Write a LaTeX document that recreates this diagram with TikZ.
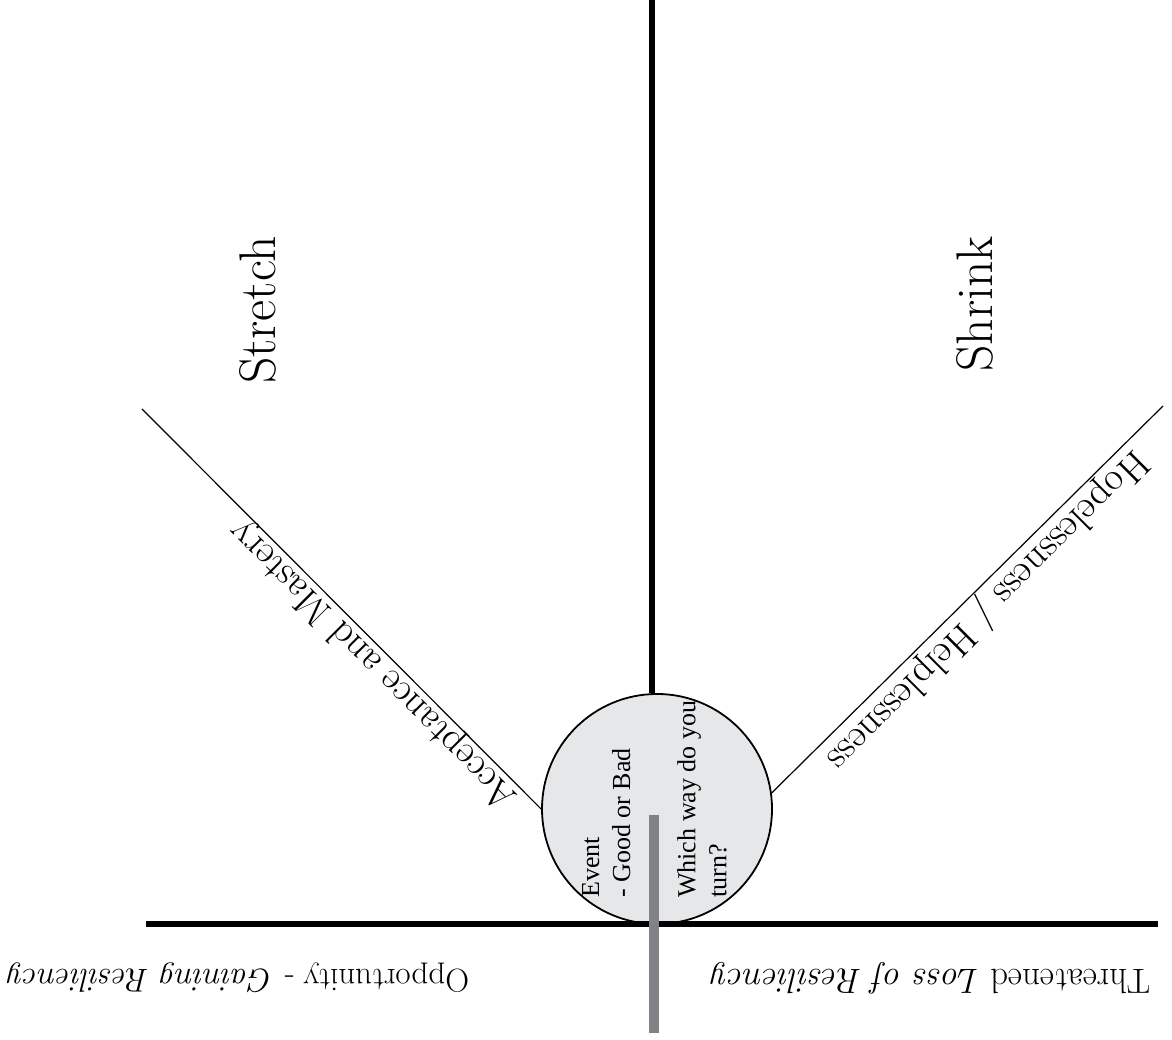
\documentclass[tikz,border=0pt]{standalone}
\usepackage{fontspec}
\newfontfamily\timesfont{Liberation Serif}
\definecolor{eventfill}{RGB}{230, 231, 232}
\definecolor{stembar}{RGB}{128, 130, 133}
\begin{document}
\begin{tikzpicture}[
        x=1pt, y=1pt,
        axis/.style={line width=5.5pt},
        ray/.style={line width=1.2pt},
        event/.style={circle, draw, line width=1.8pt, fill=eventfill,
                      minimum size=230pt, inner sep=0pt},
        bigword/.style={font=\fontsize{51.5}{60}\selectfont, rotate=90,
                        anchor=base, inner sep=0pt},
        rayword/.style={font=\fontsize{39.5}{48}\selectfont, anchor=base, inner sep=0pt},
        floorword/.style={font=\fontsize{33}{40}\selectfont, rotate=180,
                          anchor=base, inner sep=0pt},
        eventword/.style={font=\timesfont\fontsize{26}{31}\selectfont, align=left,
                          rotate=90, anchor=north west, inner sep=0pt}
    ]
        \useasboundingbox (0,0) rectangle (1172,1040);

        % Event circle and the points the lines run to
        \node[event] (event) at (657,231) {};
        \coordinate (top) at (652,1040);
        \coordinate (stretchend) at (142,631);
        \coordinate (shrinkend) at (1163,634);
        \coordinate (floorleft) at (146,116);
        \coordinate (floorright) at (1158,116);
        \coordinate (stemtop) at (654,225);
        \coordinate (stembottom) at (654,7);

        % Axes and the two rays
        \draw[axis] (top) -- (top |- event.north);
        \draw[ray] (event.west) -- (stretchend);
        \draw[ray] (event.8) -- (shrinkend);
        \draw[axis] (floorleft) -- (floorright);

        % Labels
        \node[bigword] (stretch) at (275,730) {Stretch};
        \node[bigword] (shrink) at (992,736) {Shrink};
        \node[rayword, rotate=135] (mastery) at (380.3,382.8) {Acceptance and Mastery};
        \node[rayword, rotate=-135] (hopeless) at (980,437)
            {Hopelessness / Helplessness};
        \node[floorword] (opportunity) at (238,70)
            {Opportunity - \textit{Gaining Resiliency}};
        \node[floorword, font=\fontsize{35}{42}\selectfont] (threat) at (931,70)
            {Threatened \textit{Loss of Resiliency}};

        % Text in the circle
        \node[eventword] (goodbad) at (582,142) {Event\\- Good or Bad};
        \node[eventword] (whichway) at (677,142) {Which way do you\\turn?};

        % Stem
        \draw[stembar, line width=10pt] (stemtop) -- (stembottom);
    \end{tikzpicture}
\end{document}
